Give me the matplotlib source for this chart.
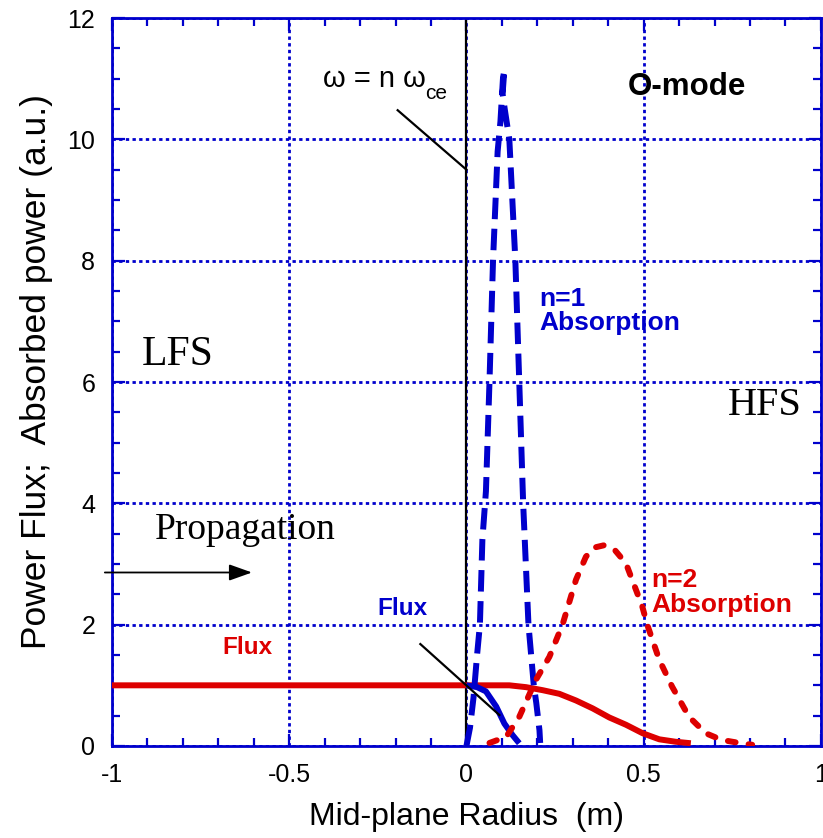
import matplotlib
matplotlib.use("Agg")
import matplotlib.pyplot as plt
from matplotlib.ticker import MultipleLocator

# ---- data ----
n1_abs_x = [0.0, 0.01, 0.02, 0.03, 0.038, 0.045, 0.055, 0.065, 0.075, 0.088, 0.096, 0.103,
            0.107, 0.102, 0.108, 0.121, 0.138, 0.149, 0.16, 0.175, 0.19, 0.197, 0.206, 0.208]
n1_abs_y = [0.0, 0.3, 0.8, 1.5, 2.0, 3.4, 4.2, 6.0, 8.0, 9.8, 10.3, 11.0,
            11.15, 10.75, 10.5, 10.0, 8.0, 6.0, 4.0, 2.0, 1.0, 0.71, 0.26, 0.05]

n2_abs_x = [0.065, 0.112, 0.149, 0.196, 0.234, 0.271, 0.309, 0.337, 0.36, 0.389, 0.42,
            0.45, 0.496, 0.51, 0.544, 0.58, 0.628, 0.675, 0.72, 0.77, 0.806]
n2_abs_y = [0.05, 0.15, 0.48, 1.09, 1.47, 2.0, 2.74, 3.12, 3.27, 3.31, 3.22,
            3.01, 2.30, 2.0, 1.42, 0.98, 0.48, 0.21, 0.10, 0.05, 0.02]

red_flux_x = [-1.0, 0.0, 0.121, 0.168, 0.215, 0.262, 0.309, 0.356, 0.403, 0.45, 0.497,
              0.544, 0.59, 0.633]
red_flux_y = [1.0, 1.0, 1.0, 0.97, 0.92, 0.86, 0.75, 0.62, 0.47, 0.35, 0.21,
              0.11, 0.07, 0.045]

blue_flux_x = [0.0, 0.03, 0.055, 0.084, 0.107, 0.13, 0.149]
blue_flux_y = [1.0, 0.97, 0.9, 0.65, 0.37, 0.18, 0.045]

x_ticks = [-1, -0.5, 0, 0.5, 1]
x_tick_labels = ["-1", "-0.5", "0", "0.5", "1"]
y_ticks = [0, 2, 4, 6, 8, 10, 12]
y_tick_labels = ["0", "2", "4", "6", "8", "10", "12"]

BLUE = "#0000CC"
RED = "#DD0000"

fig = plt.figure(figsize=(8.23, 8.38), dpi=100)
ax = fig.add_axes([0.136, 0.1098, 0.8615, 0.8687])

ax.set_xlim(-1, 1)
ax.set_ylim(0, 12)

# grid
ax.set_axisbelow(True)
ax.grid(True, which="major", color=BLUE, linestyle=(0, (1.2, 1.2)), linewidth=2.0)

# vertical resonance line
ax.axvline(0, color="black", linewidth=1.6, zorder=2)

# curves
ax.plot(red_flux_x, red_flux_y, color=RED, linewidth=4.3, solid_capstyle="butt",
        solid_joinstyle="round", zorder=3)
ax.plot(blue_flux_x, blue_flux_y, color=BLUE, linewidth=4.3, solid_capstyle="butt",
        solid_joinstyle="round", zorder=4)
ax.plot(n1_abs_x, n1_abs_y, color=BLUE, linewidth=4.3, linestyle=(0, (3.6, 1.6)),
        dash_capstyle="butt", zorder=5)
ax.plot(n2_abs_x, n2_abs_y, color=RED, linewidth=4.3, linestyle=(0, (1.3, 2.2)),
        dash_capstyle="round", zorder=5)

# annotation lines
ax.plot([-0.194, 0.0], [10.48, 9.5], color="black", linewidth=1.6, zorder=6)
ax.plot([-0.13, 0.093], [1.68, 0.51], color="black", linewidth=1.6, zorder=6)

# propagation arrow
ax.annotate("", xy=(-0.605, 2.86), xytext=(-1.02, 2.86),
            arrowprops=dict(arrowstyle="-|>,head_length=1.4,head_width=0.5",
                            color="black", lw=1.3, shrinkA=0, shrinkB=0),
            annotation_clip=False, zorder=6)

# texts
serif = "Liberation Serif"
sans = "Liberation Sans"
ax.text(-0.814, 6.45, "LFS", family=serif, fontsize=30, ha="center", va="center")
ax.text(0.842, 5.62, "HFS", family=serif, fontsize=29, ha="center", va="center")
ax.text(-0.625, 3.56, "Propagation", family=serif, fontsize=27, ha="center", va="center")
ax.text(-0.405, 11.0, "ω = n ω", family=sans, fontsize=21, ha="left", va="center")
ax.text(-0.117, 10.76, "ce", family=sans, fontsize=15, ha="left", va="center")
ax.text(0.623, 10.86, "O-mode", family=sans, fontsize=22.5, fontweight="bold",
        ha="center", va="center")
ax.text(0.205, 7.17, "n=1\nAbsorption", family=sans, fontsize=19, fontweight="bold",
        color=BLUE, ha="left", va="center", linespacing=1.02)
ax.text(0.521, 2.53, "n=2\nAbsorption", family=sans, fontsize=19, fontweight="bold",
        color=RED, ha="left", va="center", linespacing=1.02)
ax.text(-0.25, 2.26, "Flux", family=sans, fontsize=17.5, fontweight="bold",
        color=BLUE, ha="left", va="center")
ax.text(-0.617, 1.62, "Flux", family=sans, fontsize=17.5, fontweight="bold",
        color=RED, ha="center", va="center")

# ticks
ax.set_xticks(x_ticks)
ax.set_xticklabels(x_tick_labels)
ax.set_yticks(y_ticks)
ax.set_yticklabels(y_tick_labels)
ax.xaxis.set_minor_locator(MultipleLocator(0.1))
ax.yaxis.set_minor_locator(MultipleLocator(0.5))
ax.tick_params(which="both", direction="in", top=True, right=True, color=BLUE)
ax.tick_params(which="major", length=9, width=1.6, pad=12)
ax.tick_params(which="minor", length=6, width=1.6)
for lab in ax.get_xticklabels() + ax.get_yticklabels():
    lab.set_family(sans)
    lab.set_fontsize(18)

for s in ax.spines.values():
    s.set_color(BLUE)
    s.set_linewidth(2.0)

ax.set_xlabel("Mid-plane Radius  (m)", family=sans, fontsize=23, labelpad=11)
ax.set_ylabel("Power Flux;  Absorbed power (a.u.)", family=sans, fontsize=25.5, labelpad=10)
ax.yaxis.label.set_y(0.514)

fig.savefig("out.png", dpi=100)
